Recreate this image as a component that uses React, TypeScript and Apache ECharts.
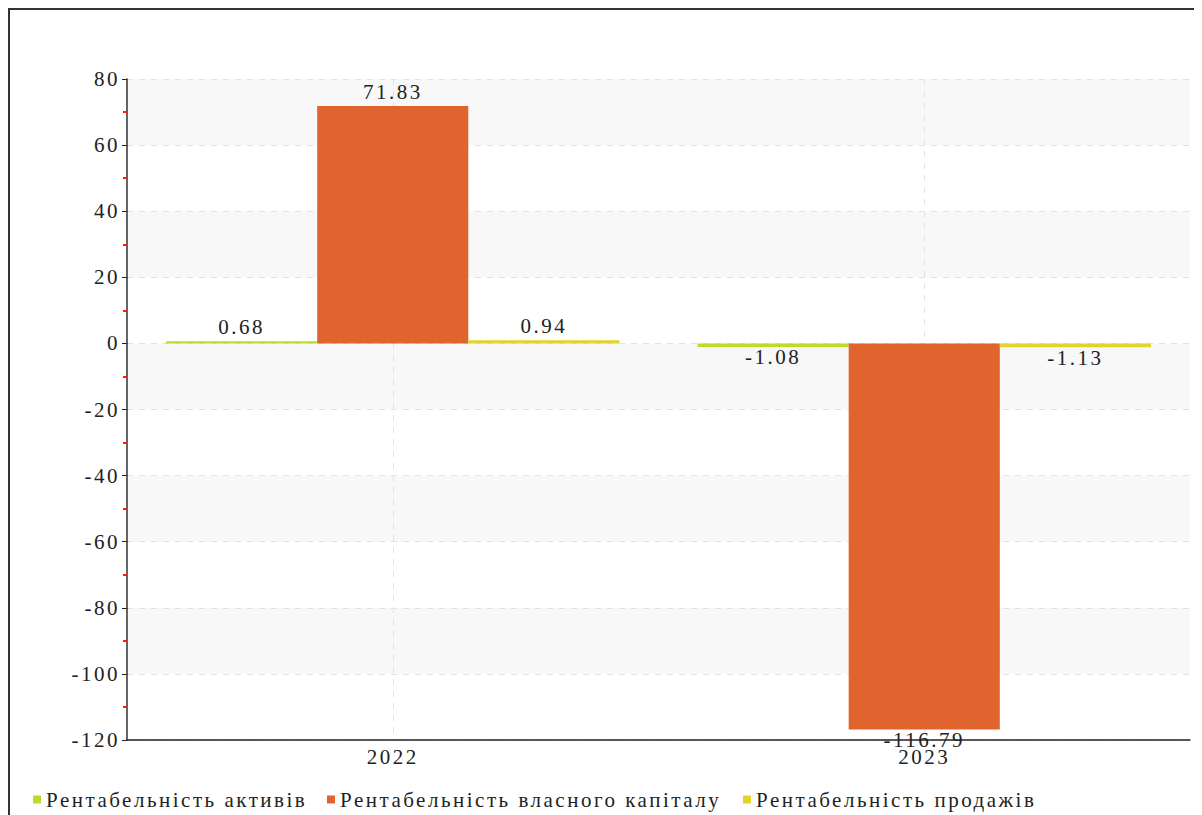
import React, { useEffect, useRef } from "react";
import * as echarts from "echarts";

const years = ["2022", "2023"];
const seriesNames = [
  "Рентабельність активів",
  "Рентабельність власного капіталу",
  "Рентабельність продажів",
];
const returnOnAssets = [0.68, -1.08];
const returnOnEquity = [71.83, -116.79];
const returnOnSales = [0.94, -1.13];
const seriesColors = ["#b9dc2d", "#e0642e", "#e2d42a"];

const FONT = "'Liberation Serif', 'Times New Roman', serif";
const FONT_SIZE = 21;
// left offsets of the three legend entries
const legendLefts = [18, 312, 728];

export default function App() {
  const ref = useRef<HTMLDivElement>(null);

  useEffect(() => {
    if (!ref.current) return;
    const chart = echarts.init(ref.current, undefined, { renderer: "svg" });
    const values = [returnOnAssets, returnOnEquity, returnOnSales];

    chart.setOption({
      animation: false,
      textStyle: { fontFamily: FONT },
      grid: { left: 117, top: 69, width: 1063, height: 661, containLabel: false },
      legend: seriesNames.map((name, i) => ({
        left: legendLefts[i],
        top: 774,
        itemWidth: 8,
        itemHeight: 8,
        icon: "rect",
        textStyle: { fontFamily: FONT, fontSize: FONT_SIZE, color: "#222" },
        data: [name],
      })),
      xAxis: {
        type: "category",
        data: years,
        axisLine: { onZero: false, lineStyle: { color: "#222", width: 1.5 } },
        axisTick: { alignWithLabel: true, length: 5, lineStyle: { color: "#222" } },
        axisLabel: { fontFamily: FONT, fontSize: FONT_SIZE, color: "#222", margin: 6 },
        splitLine: {
          show: true,
          alignWithLabel: true,
          lineStyle: { color: "#e2e2e2", type: [6, 6], width: 1 },
        },
      },
      yAxis: {
        type: "value",
        min: -120,
        max: 80,
        interval: 20,
        axisLine: { show: true, lineStyle: { color: "#333", width: 1.5 } },
        axisTick: { show: true, length: 5, lineStyle: { color: "#222" } },
        minorTick: { show: true, splitNumber: 2, length: 4, lineStyle: { color: "#ff1a1a", width: 2 } },
        axisLabel: { fontFamily: FONT, fontSize: FONT_SIZE, color: "#222", margin: 7 },
        splitLine: { show: true, lineStyle: { color: "#e2e2e2", type: [6, 6], width: 1 } },
        splitArea: { show: true, areaStyle: { color: ["#ffffff", "#f8f8f8"] } },
      },
      series: seriesNames.map((name, i) => ({
        name,
        type: "bar",
        data: values[i].map((v) => (v < 0 ? { value: v, label: { distance: 0 } } : v)),
        barGap: "0%",
        barCategoryGap: "14.7%",
        itemStyle: { color: seriesColors[i] },
        label: {
          show: true,
          position: "outside",
          distance: 4,
          fontFamily: FONT,
          fontSize: FONT_SIZE,
          color: "#222",
          formatter: (p: any) => String(p.value),
        },
      })),
    });

    return () => chart.dispose();
  }, []);

  return (
    <div
      style={{
        borderTop: "2px solid #333",
        borderLeft: "2px solid #333",
        width: 1194,
        height: 807,
        boxSizing: "border-box",
        overflow: "hidden",
      }}
    >
      <style>{`.rent-chart text { letter-spacing: 2.5px; }`}</style>
      <div className="rent-chart" ref={ref} style={{ width: 1192, height: 805 }} />
    </div>
  );
}
